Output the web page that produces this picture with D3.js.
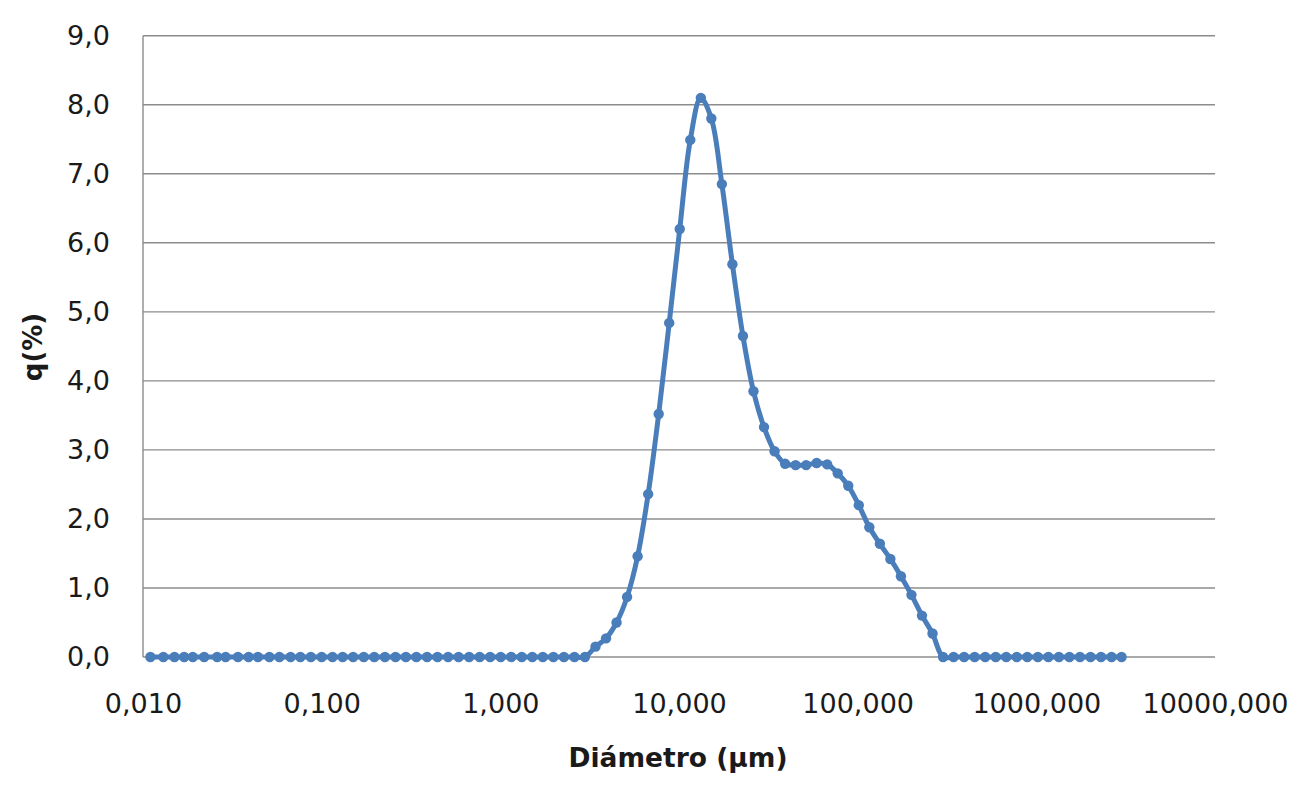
<!DOCTYPE html>
<html>
<head>
<meta charset="utf-8">
<script src="https://cdn.jsdelivr.net/npm/d3@7"></script>
<style>
  html, body { margin: 0; padding: 0; background: #ffffff; }
  svg { display: block; }
</style>
</head>
<body>
<svg id="chart" width="1304" height="812"></svg>
<script>
// Particle size classes (µm)
const diameters = [0.011, 0.013, 0.015, 0.017, 0.019, 0.022, 0.026, 0.029, 0.034, 0.039,
  0.044, 0.051, 0.058, 0.067, 0.076, 0.087, 0.100, 0.115, 0.131, 0.150,
  0.172, 0.197, 0.226, 0.259, 0.296, 0.339, 0.389, 0.445, 0.510, 0.584,
  0.669, 0.766, 0.877, 1.005, 1.151, 1.318, 1.510, 1.729, 1.981, 2.269,
  2.599, 2.976, 3.409, 3.905, 4.472, 5.122, 5.867, 6.720, 7.697, 8.816,
  10.097, 11.565, 13.246, 15.172, 17.377, 19.904, 22.797, 26.111, 29.907, 34.255,
  39.234, 44.938, 51.471, 58.953, 67.523, 77.339, 88.583, 101.460, 116.210, 133.103,
  152.453, 174.616, 200.000, 229.075, 262.376, 300.518, 344.206, 394.244, 451.556, 517.200,
  592.387, 678.504, 777.141, 890.116, 1019.515, 1167.725, 1337.481, 1531.914, 1754.613, 2009.687,
  2301.841, 2636.467, 3000.000];

// q (%) per class
const qValues = [0, 0, 0, 0, 0, 0, 0, 0, 0, 0,
  0, 0, 0, 0, 0, 0, 0, 0, 0, 0,
  0, 0, 0, 0, 0, 0, 0, 0, 0, 0,
  0, 0, 0, 0, 0, 0, 0, 0, 0, 0,
  0, 0, 0.15, 0.27, 0.50, 0.87, 1.46, 2.36, 3.52, 4.84,
  6.20, 7.49, 8.10, 7.80, 6.85, 5.69, 4.65, 3.85, 3.33, 2.98,
  2.80, 2.78, 2.78, 2.81, 2.79, 2.66, 2.48, 2.20, 1.88, 1.64,
  1.42, 1.17, 0.90, 0.60, 0.34, 0, 0, 0, 0, 0,
  0, 0, 0, 0, 0, 0, 0, 0, 0, 0,
  0, 0, 0];

const xTicks = [0.01, 0.1, 1, 10, 100, 1000, 10000];
const yTicks = [0, 1, 2, 3, 4, 5, 6, 7, 8, 9];

const xTitle = "Diámetro (µm)";
const yTitle = "q(%)";

const svg = d3.select("#chart");
const plotL = 143, plotR = 1215, plotT = 35.7, plotB = 657;

const x = d3.scaleLog().domain([0.01, 10000]).range([plotL, plotR]);
const y = d3.scaleLinear().domain([0, 9]).range([plotB, plotT]);

const comma = s => s.replace(".", ",");
const fontFam = "'DejaVu Sans', Verdana, sans-serif";

// Gridlines
svg.append("g").selectAll("line").data(yTicks).join("line")
  .attr("x1", plotL).attr("x2", plotR)
  .attr("y1", d => y(d)).attr("y2", d => y(d))
  .attr("stroke", "#8c8c8c").attr("stroke-width", 1.4);

// Y axis line
svg.append("line")
  .attr("x1", plotL).attr("x2", plotL).attr("y1", plotT).attr("y2", plotB)
  .attr("stroke", "#8c8c8c").attr("stroke-width", 1.4);

// Y tick labels via axis
const yAxis = d3.axisLeft(y).tickValues(yTicks).tickSize(0).tickPadding(33)
  .tickFormat(d => comma(d3.format(".1f")(d)));
const gy = svg.append("g").attr("transform", `translate(${plotL},0)`).call(yAxis);
gy.select(".domain").remove();
gy.selectAll("text").attr("font-family", fontFam).attr("font-size", 27).attr("fill", "#1a1a1a");

// X tick labels via axis
const xAxis = d3.axisBottom(x).tickValues(xTicks).tickSize(0).tickPadding(37)
  .tickFormat(d => comma(d3.format(".3f")(d)));
const gx = svg.append("g").attr("transform", `translate(0,${plotB})`).call(xAxis);
gx.select(".domain").remove();
gx.selectAll("text").attr("font-family", fontFam).attr("font-size", 27).attr("fill", "#1a1a1a");

// Data
const data = diameters.map((d, i) => ({ d, q: qValues[i] }));

const line = d3.line()
  .x(p => x(p.d)).y(p => y(p.q))
  .curve(d3.curveCatmullRom.alpha(0.5));

svg.append("path").datum(data)
  .attr("d", line)
  .attr("fill", "none")
  .attr("stroke", "#4a7ebb")
  .attr("stroke-width", 5)
  .attr("stroke-linejoin", "round");

svg.append("g").selectAll("circle").data(data).join("circle")
  .attr("cx", p => x(p.d)).attr("cy", p => y(p.q))
  .attr("r", 5.2)
  .attr("fill", "#4a7ebb");

// Axis titles
svg.append("text")
  .attr("x", 678).attr("y", 767)
  .attr("text-anchor", "middle")
  .attr("font-family", fontFam).attr("font-weight", "bold").attr("font-size", 26.5)
  .attr("fill", "#1a1a1a")
  .text(xTitle);

svg.append("text")
  .attr("transform", "translate(42,347) rotate(-90)")
  .attr("text-anchor", "middle")
  .attr("font-family", fontFam).attr("font-weight", "bold").attr("font-size", 26)
  .attr("fill", "#1a1a1a")
  .text(yTitle);
</script>
</body>
</html>
